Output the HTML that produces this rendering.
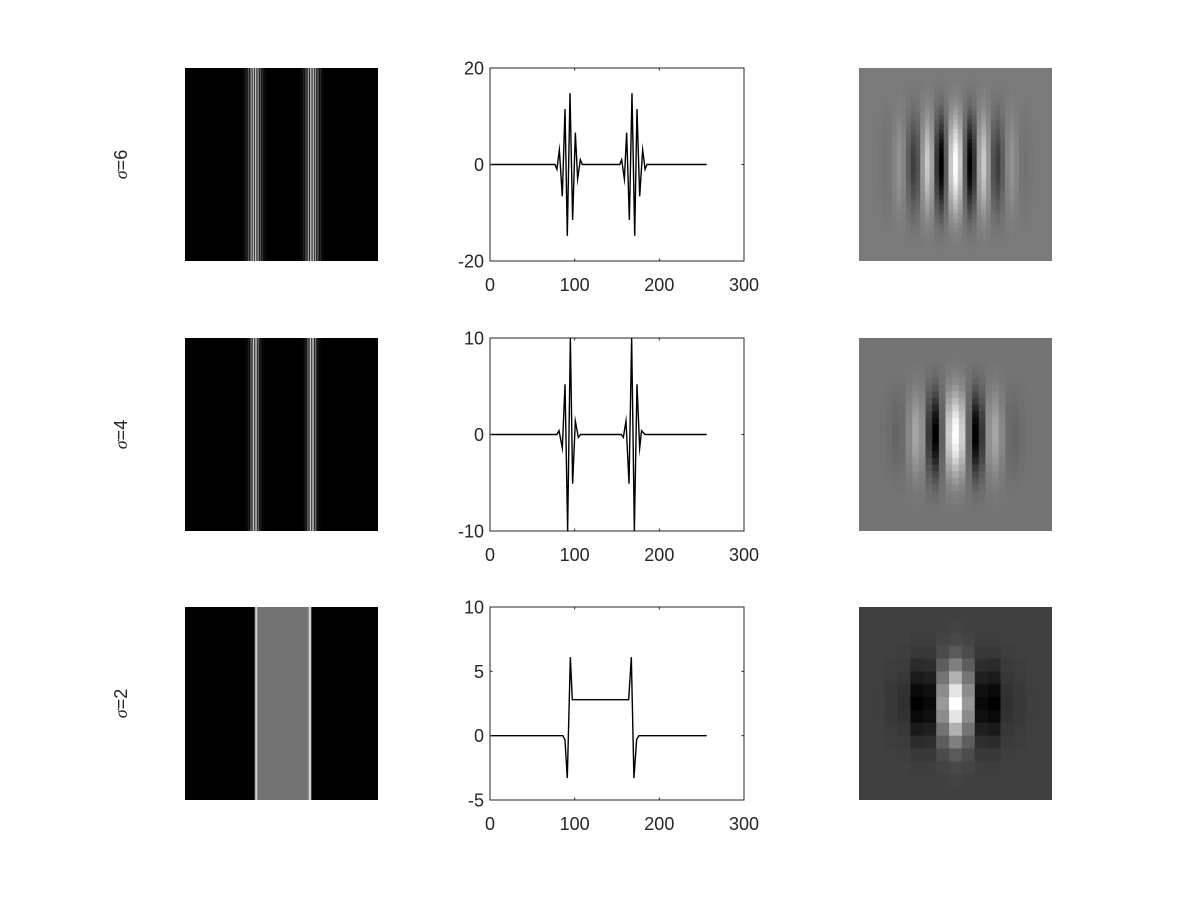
<!DOCTYPE html>
<html><head><meta charset="utf-8"><style>
html,body{margin:0;padding:0;background:#fff;}
svg{display:block;font-family:"Liberation Sans",sans-serif;}
</style></head><body>
<svg id="fig" width="1200" height="900" viewBox="0 0 1200 900" xmlns="http://www.w3.org/2000/svg">
<rect width="1200" height="900" fill="#fff"/>
</svg>
<script>
// ---- data ----
const sigmaLabels = ["6","4","2"];
const row1X = [1,76.8,79,81.9,85.4,88.6,91.3,94.5,97.6,100.8,103.5,106.7,109,153.2,155.5,158.7,161.4,164.6,167.7,170.9,173.6,176.8,180.3,183.2,185.4,256];
const row1Y = [0,0,-1,3,-6.6,11.5,-14.8,14.8,-11.5,6.6,-3,1,0,0,1,-3,6.6,-11.5,14.8,-14.8,11.5,-6.6,3,-1,0,0];
const row2X = [1,79,81.5,85.4,88.6,91.7,94.9,97.6,100.8,104.3,107,155,157.5,160.6,164.2,167.3,170.5,173.6,176.8,179,183,256];
const row2Y = [0,0,0.4,-1.4,5.2,-10,10,-5.1,1.4,-0.3,0,0,-0.3,1.4,-5.1,10,-10,5.2,-1.4,0.4,0,0];
const row3X = [1,86,88.5,91.3,94.9,97.2,163.8,166.9,170,173.2,176,256];
const row3Y = [0,0,-0.3,-3.3,6.1,2.8,2.8,6.1,-3.3,-0.3,0,0];
const yTicks1 = [-20,0,20], yTicks2 = [-10,0,10], yTicks3 = [-5,0,5,10];
const xTicks = [0,100,200,300];
const yRange1=[-20,20], yRange2=[-10,10], yRange3=[-5,10];
// gabor kernel profiles (deviation from background) and vertical envelopes
const k1Bg = 122;
const k1Prof = [133,80,-30,-122,-70,40,80,30,-40,-60,-30,10,25,10,-5,-8,-3,0,0,0,0];
const k1Env = [1,0.99,0.96,0.92,0.86,0.79,0.71,0.62,0.53,0.44,0.36,0.28,0.21,0.15,0.1,0.07,0.04,0.02,0.01,0,0];
const k2Bg = 116;
const k2Prof = [139,90,-20,-116,-60,30,50,20,-10,-15,-8,-3,0,0,0];
const k2Env = [1,0.97,0.9,0.8,0.66,0.52,0.38,0.26,0.16,0.09,0.05,0.02,0.01,0,0];
const k3Bg = 64;
const k3Prof = [191,88,-56,-64,-16,-8,-2,0];
const k3Env = [1,0.86,0.59,0.33,0.13,0.04,0.01,0];

const NS="http://www.w3.org/2000/svg";
const fig=document.getElementById('fig');
function el(tag,attrs,parent){const e=document.createElementNS(NS,tag);for(const k in attrs)e.setAttribute(k,attrs[k]);(parent||fig).appendChild(e);return e;}

const rowsTop=[68,338,607], H=193;
const rows=[{x:row1X,y:row1Y,yt:yTicks1,yr:yRange1,prof:k1Prof,env:k1Env,bg:k1Bg,abs:true},
            {x:row2X,y:row2Y,yt:yTicks2,yr:yRange2,prof:k2Prof,env:k2Env,bg:k2Bg,abs:true},
            {x:row3X,y:row3Y,yt:yTicks3,yr:yRange3,prof:k3Prof,env:k3Env,bg:k3Bg,abs:false}];

function interp(xs,ys,x){for(let i=0;i<xs.length-1;i++){if(x>=xs[i]&&x<=xs[i+1]){const t=(x-xs[i])/(xs[i+1]-xs[i]||1);return ys[i]+t*(ys[i+1]-ys[i]);}}return 0;}

rows.forEach((r,ri)=>{
  const top=rowsTop[ri];
  const lab=el('text',{x:0,y:0,transform:`translate(127,${top+H/2}) rotate(-90)`,'text-anchor':'middle','font-size':18,fill:'#262626'});
  
  
  lab.innerHTML='<tspan font-style="italic" font-family="Liberation Serif">σ</tspan>='+sigmaLabels[ri];
  // left image
  const gL=el('g',{});
  
  
  el('rect',{x:185,y:top,width:193,height:H,fill:'#000'},gL);
  const mx=Math.max(...r.y.map(Math.abs));
  const cw=193/256;
  for(let i=1;i<=256;i+=0.5){
    let v=interp(r.x,r.y,i); if(r.abs)v=Math.abs(v);
    const c=Math.round(Math.max(0,Math.min(1,v/mx))*255);
    if(c>2){const s=el('rect',{x:185+(i-1)*cw,y:top,width:cw/2+0.3,height:H,fill:`rgb(${c},${c},${c})`},gL);
      
      }
  }
  // middle plot
  const x0=490,x1=744;
  const sx=v=>x0+(v-0)/(300-0)*(x1-x0);
  const sy=v=>top+H-(v-r.yr[0])/(r.yr[1]-r.yr[0])*H;
  const gM=el('g',{});
  
  
  el('rect',{x:x0,y:top,width:x1-x0,height:H,fill:'#fff',stroke:'#262626','stroke-width':1},gM);
  const d=r.x.map((v,i)=>(i?'L':'M')+sx(v).toFixed(2)+','+sy(r.y[i]).toFixed(2)).join('');
  const ln=el('path',{d:d,fill:'none',stroke:'#000','stroke-width':1.4,'stroke-linejoin':'miter','stroke-miterlimit':20},gM);
  
  
  xTicks.forEach(t=>{
    const X=sx(t);
    el('line',{x1:X,y1:top+H,x2:X,y2:top+H-2.5,stroke:'#262626'},gM);
    el('line',{x1:X,y1:top,x2:X,y2:top+2.5,stroke:'#262626'},gM);
    const tl=el('text',{x:X,y:top+H+30,'text-anchor':'middle','font-size':18,fill:'#262626'},gM);
    
    
    tl.textContent=t;
  });
  r.yt.forEach(t=>{
    const Y=sy(t);
    el('line',{x1:x0,y1:Y,x2:x0+2.5,y2:Y,stroke:'#262626'},gM);
    el('line',{x1:x1,y1:Y,x2:x1-2.5,y2:Y,stroke:'#262626'},gM);
    const tl=el('text',{x:x0-6,y:Y+6.5,'text-anchor':'end','font-size':18,fill:'#262626'},gM);
    
    
    tl.textContent=t;
  });
  // right kernel image
  const gR=el('g',{});
  
  
  el('rect',{x:859,y:top,width:193,height:H,fill:`rgb(${r.bg},${r.bg},${r.bg})`},gR);
  const n=r.prof.length*2-1, c0=r.prof.length-1, cs=193/n;
  for(let j=0;j<n;j++)for(let i=0;i<n;i++){
    const p=r.prof[Math.abs(i-c0)], e=r.env[Math.abs(j-c0)];
    const dv=p*e; if(Math.abs(dv)<1)continue;
    const g=Math.round(Math.max(0,Math.min(255,r.bg+dv)));
    const cell=el('rect',{x:859+i*cs,y:top+j*cs,width:cs+0.3,height:cs+0.3,fill:`rgb(${g},${g},${g})`},gR);
    
    
  }
});
</script>
</body></html>
